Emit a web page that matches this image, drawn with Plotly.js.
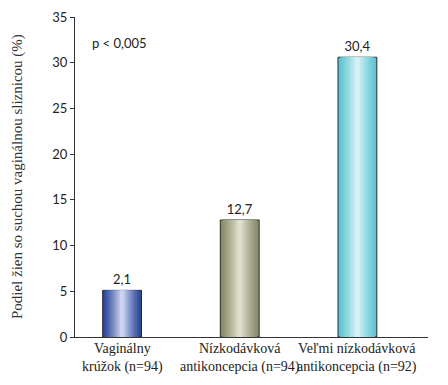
<!DOCTYPE html>
<html>
<head>
<meta charset="utf-8">
<script src="https://cdn.plot.ly/plotly-3.0.1.min.js"></script>
<style>html,body{margin:0;padding:0;background:#fff;}#chart{width:448px;height:385px;}</style>
</head>
<body>
<div id="chart"></div>
<script>
// Data
const categories = ["Vaginálny<br>krúžok (n=94)", "Nízkodávková<br>antikoncepcia (n=94)", "Veľmi nízkodávková<br>antikoncepcia (n=92)"];
const barHeights = [5.1, 12.8, 30.6];
const valueLabels = ["2,1", "12,7", "30,4"];
const yTicks = [0, 5, 10, 15, 20, 25, 30, 35];
const pValueText = "p < 0,005";
const yTitle = "Podiel žien so suchou vaginálnou sliznicou (%)";

// Styling (edge -> center colours for the shaded bars)
const edgeColors = [[43, 73, 155], [139, 139, 107], [94, 196, 210]];
const centerColors = [[205, 210, 238], [222, 224, 206], [214, 240, 244]];
const barWidth = 0.33;
const layers = 9;
const serif = 'Liberation Serif, serif';
const sans = 'Lato';

function mix(a, b, t) {
  return 'rgb(' + a.map((v, i) => Math.round(v + (b[i] - v) * t)).join(',') + ')';
}

const traces = [];
for (let k = 0; k < layers; k++) {
  const t = k / (layers - 1);
  const w = barWidth * (1 - k / layers);
  traces.push({
    type: 'bar',
    x: categories,
    y: barHeights,
    width: categories.map(() => w),
    marker: {
      color: categories.map((c, i) => mix(edgeColors[i], centerColors[i], Math.pow(t, 1.2))),
      line: {color: k === 0 ? '#2a2a2a' : 'rgba(0,0,0,0)', width: k === 0 ? 1 : 0}
    },
    text: k === 0 ? valueLabels : undefined,
    textposition: k === 0 ? 'outside' : 'none',
    textfont: {family: sans, size: 13, color: '#222'},
    cliponaxis: false,
    hoverinfo: 'skip',
    showlegend: false
  });
}

const annotations = [{
  xref: 'paper', yref: 'paper',
  x: 0.042, y: 0.92,
  xanchor: 'left', yanchor: 'middle',
  text: pValueText,
  showarrow: false,
  font: {family: sans, size: 13, color: '#222'}
}, {
  xref: 'paper', yref: 'paper',
  x: -0.164, y: 0.5,
  xanchor: 'center', yanchor: 'middle',
  textangle: -90,
  text: yTitle,
  showarrow: false,
  font: {family: serif, size: 15, color: '#333'}
}];
categories.forEach(c => annotations.push({
  xref: 'x', yref: 'paper',
  x: c, y: 0,
  xanchor: 'center', yanchor: 'top',
  yshift: -2,
  text: c,
  showarrow: false,
  font: {family: serif, size: 14, color: '#222'}
}));

const layout = {
  width: 448,
  height: 385,
  margin: {l: 75, r: 20, t: 17, b: 48},
  paper_bgcolor: '#fff',
  plot_bgcolor: '#fff',
  barmode: 'overlay',
  showlegend: false,
  xaxis: {
    type: 'category',
    range: [-0.4, 2.6],
    showline: true,
    linecolor: '#333',
    linewidth: 1,
    ticks: '',
    showticklabels: false,
    automargin: false,
    showgrid: false,
    zeroline: false
  },
  yaxis: {
    range: [0, 35],
    tickvals: yTicks,
    ticktext: yTicks.map(String),
    showline: true,
    linecolor: '#333',
    linewidth: 1,
    ticks: 'outside',
    ticklen: 4,
    tickcolor: '#333',
    showgrid: false,
    zeroline: false,
    automargin: false,
    tickfont: {family: sans, size: 13, color: '#222'}
  },
  annotations: annotations
};

Plotly.newPlot('chart', traces, layout, {displayModeBar: false, staticPlot: true});
</script>
</body>
</html>
